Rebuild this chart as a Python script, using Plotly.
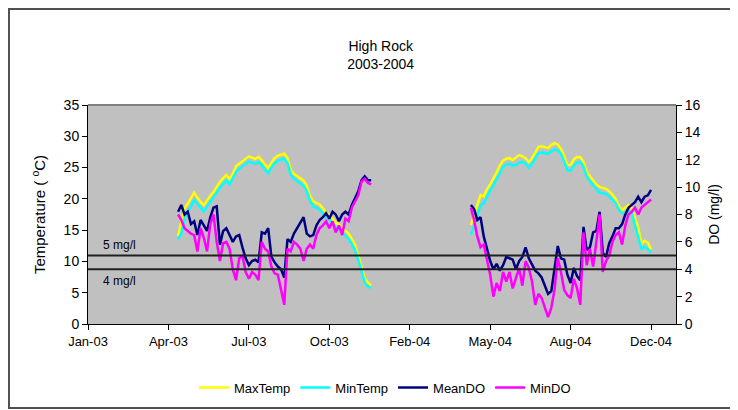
import pandas as pd
import plotly.graph_objects as go

# ---------------- data ----------------
AXIS_START = "2003-01-01"
AXIS_END = "2005-01-01"
TICK_STEP_DAYS = 100
tick_labels = ["Jan-03", "Apr-03", "Jul-03", "Oct-03", "Feb-04", "May-04", "Aug-04", "Dec-04"]

# period 1 (2003), one reading every 4 days
p1_start = "2003-04-23"
p1_max_temp = [14.0, 16.5, 18.5, 19.2, 20.0, 21.0, 20.2, 19.5, 19.0, 19.8,
               20.5, 21.1, 22.0, 22.7, 23.3, 23.8, 23.2, 24.0, 25.2, 25.6,
               26.0, 26.4, 26.8, 26.6, 26.4, 26.7, 26.2, 25.5, 24.9, 25.8,
               26.5, 26.9, 27.1, 27.2, 26.5, 24.7, 24.0, 23.6, 23.3, 22.9,
               22.0, 20.5, 19.6, 19.3, 19.1, 18.5, 17.8, 17.5, 16.9, 16.2,
               15.9, 15.4, 15.0, 14.4, 13.6, 12.6, 11.0, 9.0, 7.3, 6.6,
               6.2]
p1_min_temp = [13.5, 14.5, 16.8, 18.0, 18.8, 19.8, 19.2, 18.5, 18.0, 18.8,
               19.5, 20.2, 21.0, 21.8, 22.4, 22.9, 22.3, 23.2, 24.3, 24.8,
               25.2, 25.6, 26.0, 25.8, 25.6, 25.9, 25.4, 24.7, 24.1, 25.0,
               25.7, 26.1, 26.3, 26.4, 25.7, 23.9, 23.2, 22.8, 22.5, 22.1,
               21.2, 19.7, 18.8, 18.5, 18.3, 17.7, 17.0, 16.7, 16.1, 15.4,
               15.1, 14.6, 14.2, 13.6, 12.8, 11.8, 10.2, 8.2, 6.6, 6.0,
               5.8]
p1_mean_do = [8.2, 8.7, 8.0, 8.2, 7.3, 7.5, 6.5, 7.6, 7.2, 6.8,
              7.8, 8.5, 8.6, 5.8, 6.8, 7.0, 6.5, 6.0, 6.4, 6.5,
              5.6, 4.8, 4.3, 4.6, 4.7, 4.5, 6.7, 6.6, 7.0, 4.9,
              4.5, 4.2, 4.0, 3.4, 6.2, 6.0, 6.6, 7.0, 7.3, 7.8,
              6.6, 6.4, 6.5, 7.2, 7.6, 7.8, 8.1, 7.7, 8.2, 8.0,
              7.5, 8.0, 8.2, 8.0, 8.7, 9.2, 9.7, 10.5, 10.8, 10.5,
              10.5]
p1_min_do = [8.0, 7.6, 7.0, 6.8, 6.6, 6.5, 5.3, 7.0, 6.3, 5.3,
             7.3, 8.0, 6.0, 4.6, 5.9, 6.0, 5.5, 4.0, 3.2, 4.8,
             5.0, 3.8, 3.3, 3.8, 3.6, 3.2, 6.0, 5.5, 5.3, 4.2,
             3.7, 3.6, 2.6, 1.4, 5.5, 5.3, 6.0, 5.8, 5.5, 4.6,
             5.5, 5.8, 5.5, 6.5, 7.0, 7.2, 7.5, 7.0, 7.5, 6.7,
             7.2, 6.5, 7.7, 7.5, 8.5, 8.9, 9.4, 10.4, 10.6, 10.3,
             10.2]

# period 2 (2004), one reading every 4 days
p2_start = "2004-04-21"
p2_max_temp = [15.8, 17.5, 19.0, 20.6, 20.4, 21.5, 22.3, 23.2, 24.2, 25.3,
               26.1, 26.4, 26.5, 26.2, 26.6, 27.0, 26.8, 26.5, 25.9, 26.5,
               27.4, 28.3, 28.4, 28.2, 28.1, 28.6, 28.9, 28.7, 28.0, 26.8,
               25.4, 25.4, 26.3, 26.7, 26.7, 25.9, 24.4, 23.6, 23.0, 22.3,
               21.9, 21.8, 21.6, 21.2, 20.7, 20.0, 18.9, 18.2, 18.6, 19.0,
               18.5, 17.0, 15.4, 12.8, 13.3, 13.0, 11.9]
p2_min_temp = [14.3, 15.8, 17.5, 19.0, 19.3, 20.4, 21.3, 22.2, 23.2, 24.2,
               25.1, 25.5, 25.6, 25.3, 25.4, 25.8, 25.9, 25.6, 25.0, 25.6,
               26.5, 27.3, 27.4, 27.3, 27.2, 27.6, 27.9, 27.8, 27.2, 25.9,
               24.6, 24.5, 25.3, 25.8, 25.9, 25.1, 23.6, 22.8, 22.2, 21.5,
               21.0, 20.9, 20.8, 20.4, 19.9, 19.3, 18.3, 17.7, 17.8, 18.2,
               17.6, 15.8, 14.0, 12.0, 12.3, 12.0, 11.4]
p2_mean_do = [8.7, 8.4, 7.6, 7.8, 6.4, 5.4, 4.6, 4.0, 4.4, 3.9,
              4.3, 4.9, 4.8, 4.7, 4.0, 4.6, 4.9, 5.6, 4.8, 4.3,
              3.9, 3.7, 3.4, 2.8, 2.2, 2.4, 4.2, 5.7, 4.8, 4.7,
              3.6, 3.0, 4.1, 3.5, 3.2, 7.1, 5.4, 5.6, 6.7, 6.8,
              8.2, 5.2, 4.9, 5.9, 6.4, 7.0, 7.0, 7.3, 8.0, 8.5,
              8.7, 8.9, 9.3, 8.9, 9.3, 9.4, 9.8]
p2_min_do = [8.5, 7.6, 6.4, 5.6, 5.8, 4.8, 3.6, 2.0, 3.0, 2.4,
             3.8, 3.1, 3.8, 2.6, 3.3, 4.1, 2.8, 4.6, 4.1, 3.1,
             1.4, 2.2, 1.9, 1.2, 0.5, 1.2, 2.5, 4.8, 3.8, 2.5,
             2.1, 1.9, 3.3, 2.6, 1.4, 6.7, 4.3, 5.5, 4.2, 6.0,
             8.0, 3.8, 4.6, 5.0, 6.0, 6.5, 6.7, 5.8, 7.2, 8.0,
             8.2, 8.5, 8.0, 8.5, 8.7, 8.9, 9.1]

do_limits = [5, 4]
do_limit_labels = ["5 mg/l", "4 mg/l"]

# ---------------- build ----------------
p1_dates = list(pd.date_range(p1_start, periods=len(p1_max_temp), freq="4D"))
p2_dates = list(pd.date_range(p2_start, periods=len(p2_max_temp), freq="4D"))
gap_date = pd.Timestamp("2004-02-01")
dates = p1_dates + [gap_date] + p2_dates


def join(a, b):
    return list(a) + [None] + list(b)


tickvals = list(pd.date_range(AXIS_START, periods=len(tick_labels), freq=f"{TICK_STEP_DAYS}D"))

FONT = "Liberation Sans, Arial, sans-serif"

fig = go.Figure()
series = [
    ("MaxTemp", join(p1_max_temp, p2_max_temp), "#FFFF00", "y"),
    ("MinTemp", join(p1_min_temp, p2_min_temp), "#00FFFF", "y"),
    ("MeanDO", join(p1_mean_do, p2_mean_do), "#000080", "y2"),
    ("MinDO", join(p1_min_do, p2_min_do), "#FF00FF", "y2"),
]
for name, vals, color, ax in series:
    fig.add_trace(go.Scatter(x=dates, y=vals, name=name, mode="lines",
                             line=dict(color=color, width=2.5), yaxis=ax,
                             connectgaps=False))

shapes = []
for lim in do_limits:
    shapes.append(dict(type="line", xref="paper", yref="y2", x0=0, x1=1, y0=lim, y1=lim,
                       line=dict(color="#202020", width=2)))
# plot-area top border
shapes.append(dict(type="line", xref="paper", yref="paper", x0=0, x1=1, y0=1, y1=1,
                   line=dict(color="#808080", width=2)))
# outer chart border
shapes.append(dict(type="rect", xref="paper", yref="paper", x0=-0.1344, x1=1.13,
                   y0=-0.3836, y1=1.4384, line=dict(color="#505050", width=2),
                   fillcolor="rgba(0,0,0,0)", layer="below"))

annotations = [
    dict(text=do_limit_labels[0], xref="paper", yref="y2", x=0.022, y=do_limits[0],
         xanchor="left", yanchor="bottom", yshift=2, showarrow=False,
         font=dict(family=FONT, size=12, color="black")),
    dict(text=do_limit_labels[1], xref="paper", yref="y2", x=0.022, y=do_limits[1],
         xanchor="left", yanchor="top", yshift=-3, showarrow=False,
         font=dict(family=FONT, size=12, color="black")),
]

fig.update_layout(
    width=738, height=410,
    margin=dict(l=80, r=70, t=97, b=94, autoexpand=False),
    paper_bgcolor="white",
    plot_bgcolor="#C0C0C0",
    font=dict(family=FONT, size=13, color="black"),
    title=dict(text="High Rock<br>2003-2004", x=0.505, xanchor="center",
               yref="container", y=0.895, yanchor="top",
               font=dict(family=FONT, size=14, color="black")),
    xaxis=dict(range=[AXIS_START, AXIS_END], tickvals=tickvals, ticktext=tick_labels,
               showgrid=False, zeroline=False, showline=True, linecolor="black",
               linewidth=1, ticks="outside", ticklen=5, tickcolor="black",
               tickfont=dict(size=13), automargin=False),
    yaxis=dict(range=[0, 35], dtick=5, showgrid=False, zeroline=False, showline=True,
               linecolor="black", linewidth=1, ticks="outside", ticklen=5,
               tickcolor="black", tickfont=dict(size=14), automargin=False,
               title=dict(text="Temperature ( <sup>o</sup>C)", font=dict(size=15), standoff=14)),
    yaxis2=dict(range=[0, 16], dtick=2, overlaying="y", side="right", showgrid=False,
                zeroline=False, showline=True, linecolor="black", linewidth=1,
                ticks="outside", ticklen=5, tickcolor="black", tickfont=dict(size=14),
                automargin=False,
                title=dict(text="DO (mg/l)", font=dict(size=14), standoff=9)),
    legend=dict(orientation="h", x=0.505, xanchor="center", y=-0.29, yanchor="middle",
                font=dict(size=13), bgcolor="rgba(0,0,0,0)", traceorder="normal"),
    shapes=shapes,
    annotations=annotations,
    showlegend=True,
)

fig.write_html("out.html")
